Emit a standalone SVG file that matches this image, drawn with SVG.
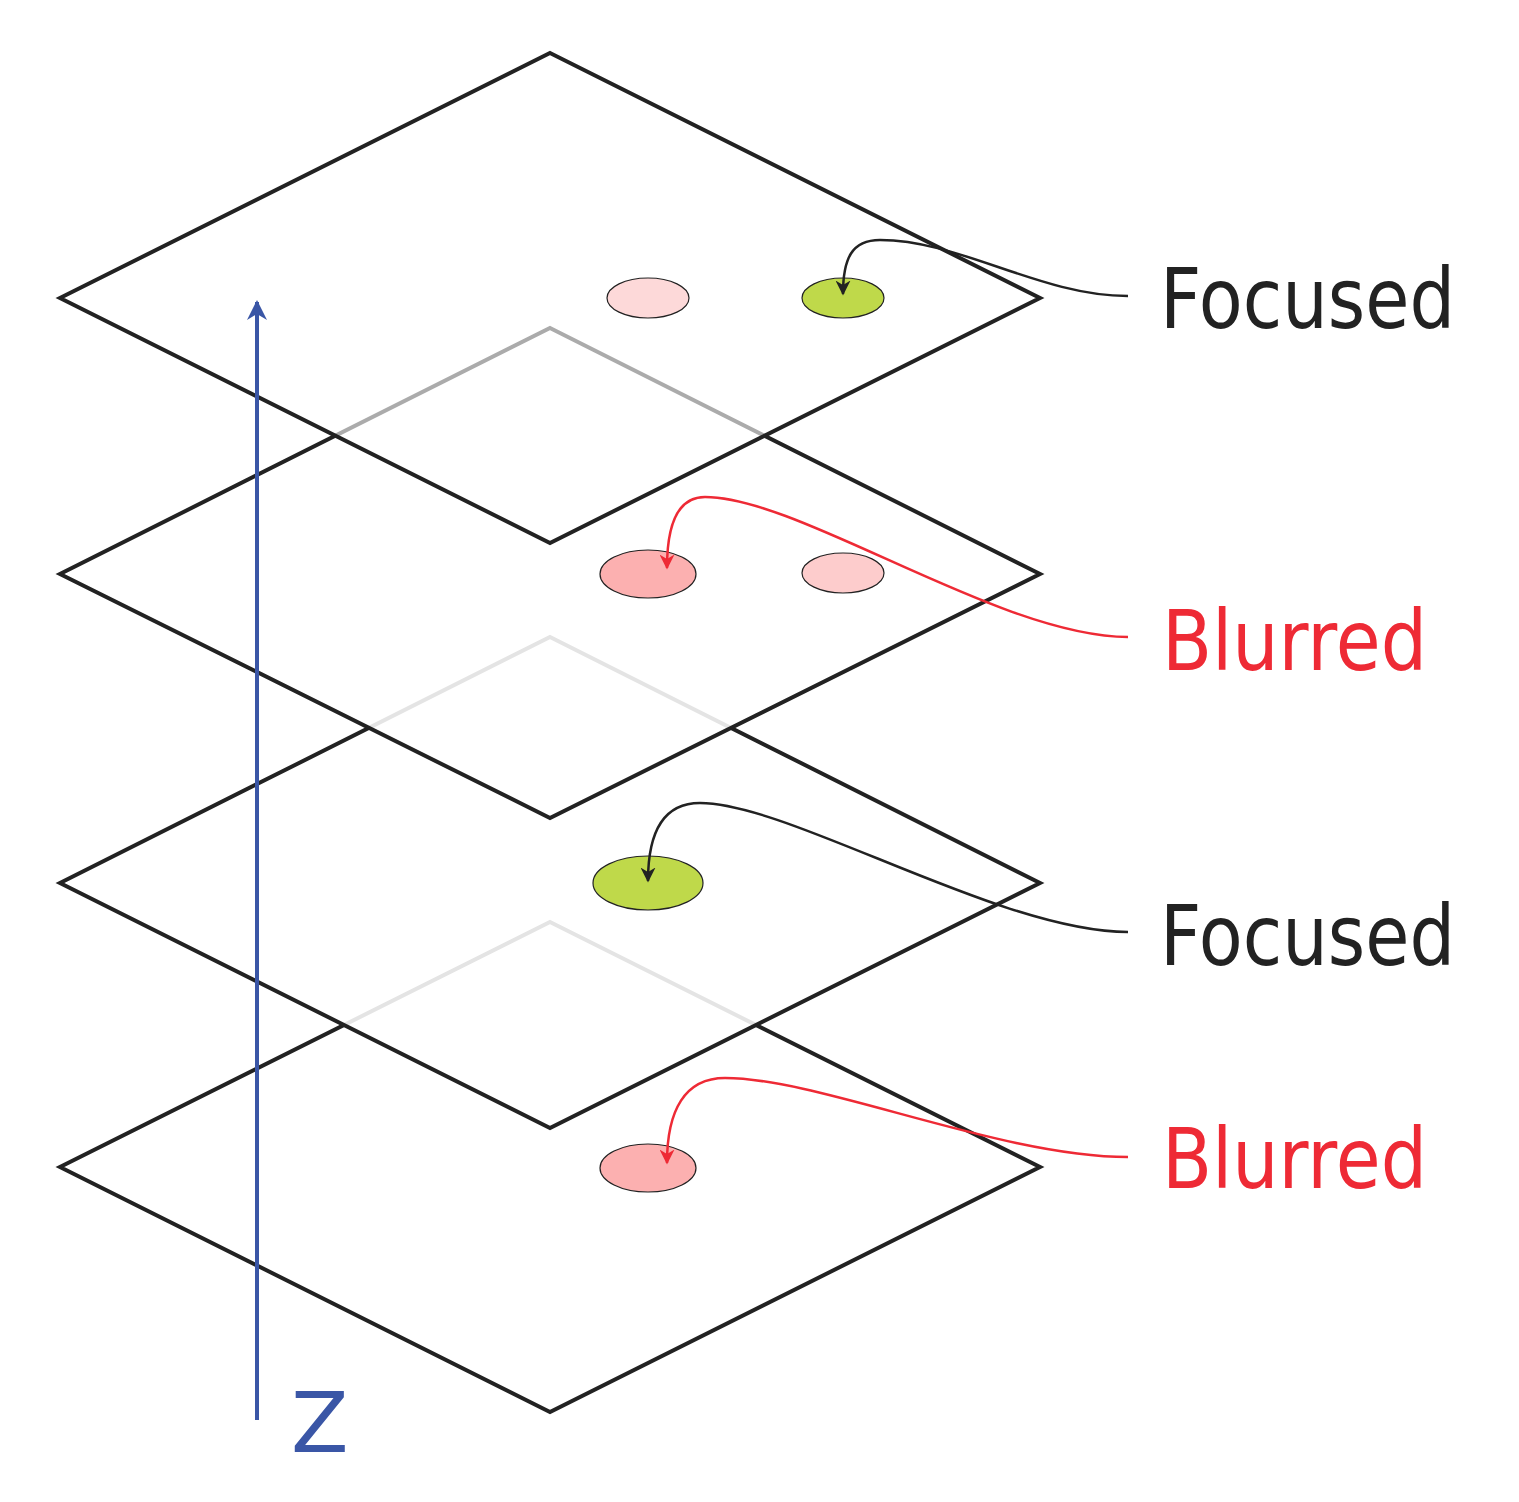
<svg xmlns="http://www.w3.org/2000/svg" width="1519" height="1502" viewBox="0 0 1519 1502">
<defs>
<style>
.pl{stroke:#222;stroke-width:4;stroke-linejoin:miter}
.e{stroke:#222;stroke-width:1.2}
.lbl{font-family:"DejaVu Sans","Liberation Sans",sans-serif;font-size:84px}
</style>
<marker id="ak" viewBox="0 0 10 10" refX="9" refY="5" markerWidth="6" markerHeight="6" orient="auto"><path d="M0,0 L10,5 L0,10 L3,5 Z" fill="#222"/></marker>
<marker id="ar" viewBox="0 0 10 10" refX="9" refY="5" markerWidth="6" markerHeight="6" orient="auto"><path d="M0,0 L10,5 L0,10 L3,5 Z" fill="#ee2a35"/></marker>
<marker id="ab" viewBox="0 0 10 10" refX="9" refY="5" markerWidth="5" markerHeight="5" orient="auto"><path d="M0,0 L10,5 L0,10 L3,5 Z" fill="#3a56a6"/></marker>
</defs>
<rect width="1519" height="1502" fill="#fff"/>
<g id="plane4"><polygon class="pl" fill="#fff" points="550,922 1040,1167 550,1412 60,1167"/><ellipse class="e" cx="648" cy="1168" rx="48" ry="24" fill="#fcb0b0"/></g>
<g id="plane3"><polygon class="pl" fill="#fff" fill-opacity="0.88" points="550,637 1040,883 550,1128 60,883"/><ellipse class="e" cx="648" cy="883" rx="55" ry="27" fill="#bfd94a"/></g>
<g id="plane2"><polygon class="pl" fill="#fff" fill-opacity="0.88" points="550,328 1040,574 550,818 60,574"/><ellipse class="e" cx="648" cy="574" rx="48" ry="24" fill="#fcb0b0"/><ellipse class="e" cx="843" cy="573" rx="41" ry="20" fill="#fdcccc"/></g>
<g id="plane1"><polygon class="pl" fill="#fff" fill-opacity="0.62" points="550,53 1040,298 550,543 60,298"/><ellipse class="e" cx="648" cy="298" rx="41" ry="20" fill="#fdd9d9"/><ellipse class="e" cx="843" cy="298" rx="41" ry="20" fill="#bfd94a"/></g>
<g id="connectors" fill="none" stroke-width="2.5">
<path d="M1128,296 C1040,296 960,240 880,240 C852,240 843,258 843,294" stroke="#222" marker-end="url(#ak)"/>
<path d="M1128,637 C1000,637 800,497 705,497 C680,497 667,520 667,568" stroke="#ee2a35" marker-end="url(#ar)"/>
<path d="M1128,932 C1000,932 790,803 700,803 C665,803 648,830 648,881" stroke="#222" marker-end="url(#ak)"/>
<path d="M1128,1157 C1000,1157 820,1078 725,1078 C685,1078 667,1110 667,1163" stroke="#ee2a35" marker-end="url(#ar)"/>
<path d="M257,1420 L257,302" stroke="#3a56a6" stroke-width="4" marker-end="url(#ab)"/>
</g>
<g id="labels">
<text class="lbl" x="1160" y="328" fill="#222" textLength="295" lengthAdjust="spacingAndGlyphs">Focused</text>
<text class="lbl" x="1162" y="670" fill="#ee2a35" textLength="265" lengthAdjust="spacingAndGlyphs">Blurred</text>
<text class="lbl" x="1160" y="965" fill="#222" textLength="295" lengthAdjust="spacingAndGlyphs">Focused</text>
<text class="lbl" x="1162" y="1188" fill="#ee2a35" textLength="265" lengthAdjust="spacingAndGlyphs">Blurred</text>
<text class="lbl" x="291" y="1452" fill="#3a56a6">Z</text>
</g>
</svg>
